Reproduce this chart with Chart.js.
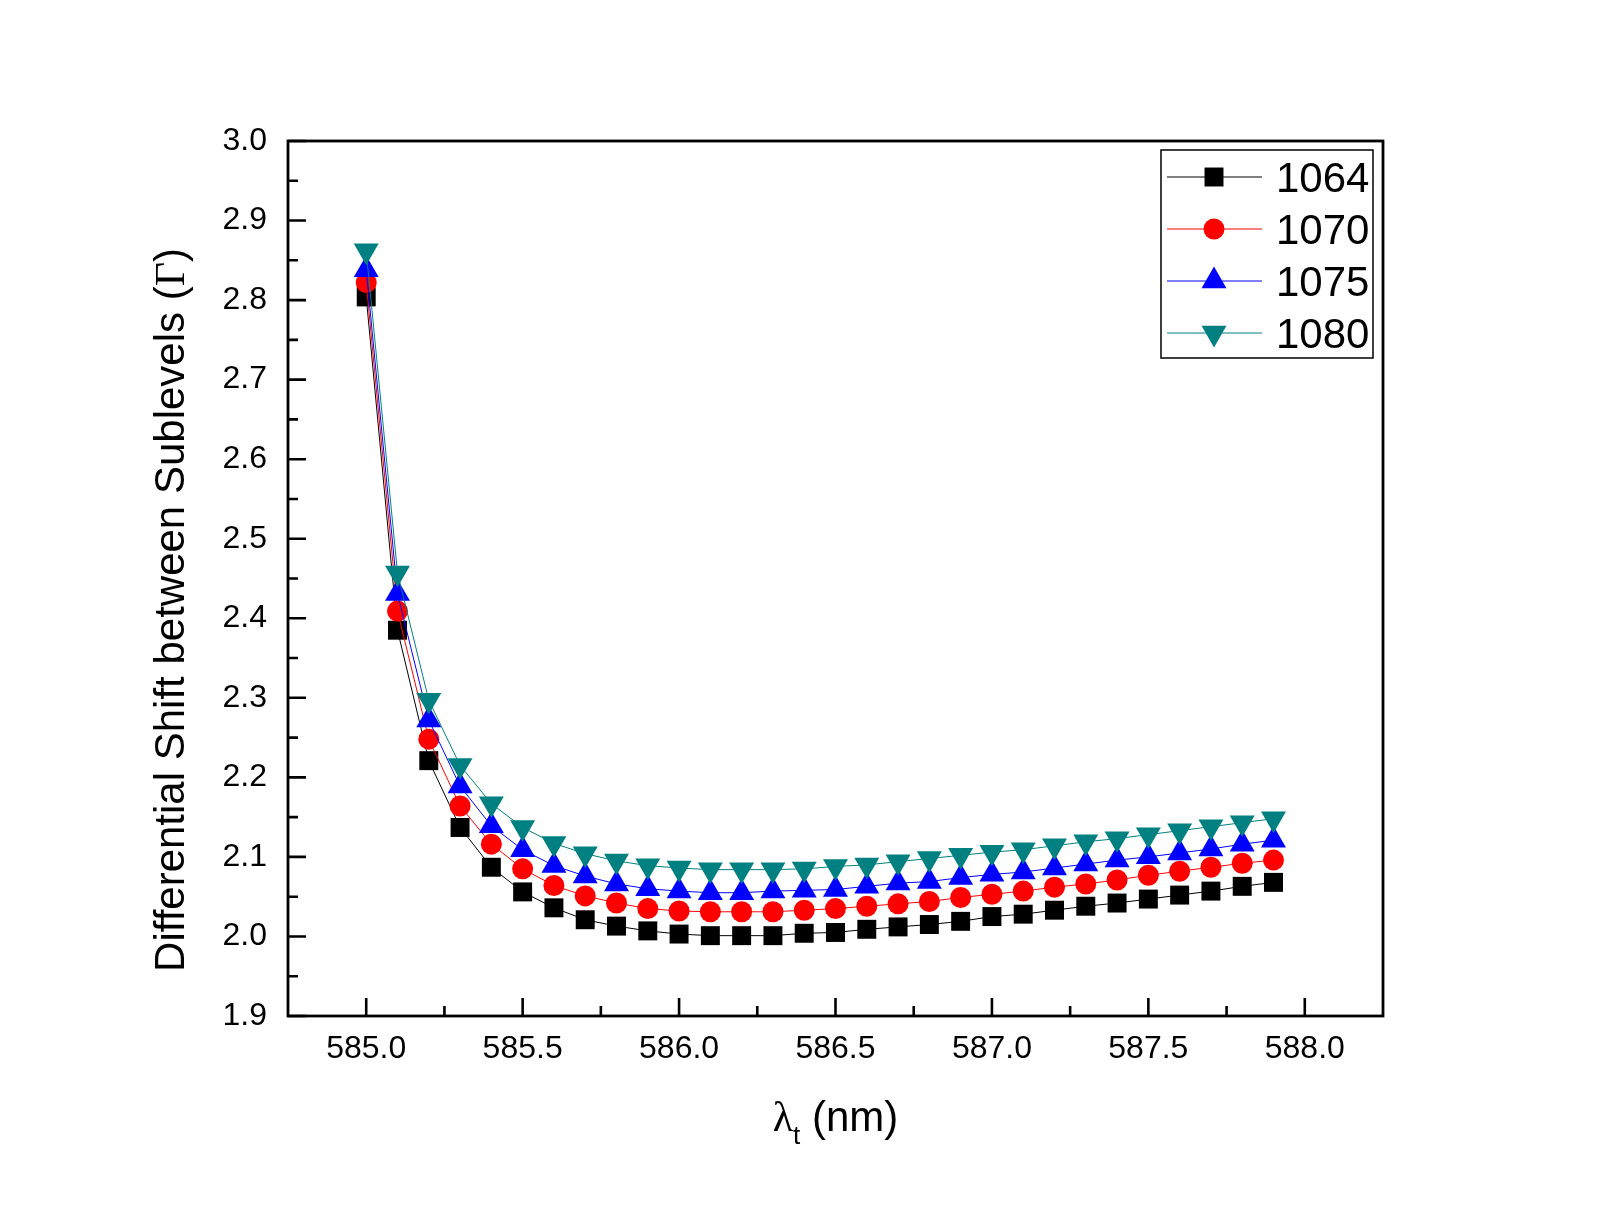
<!DOCTYPE html>
<html>
<head>
<meta charset="utf-8">
<title>Differential Shift between Sublevels</title>
<script src="https://cdn.jsdelivr.net/npm/chart.js@4.4.1/dist/chart.umd.min.js"></script>
<style>
  html, body { margin: 0; padding: 0; background: #fff; }
  #wrap { width: 1605px; height: 1218px; }
</style>
</head>
<body>
<div id="wrap"><canvas id="shiftChart" width="1605" height="1218"></canvas></div>
<script>
// wavelength lambda_t (nm)
const lambdaT = [585.0, 585.1, 585.2, 585.3, 585.4, 585.5, 585.6, 585.7, 585.8, 585.9,
                 586.0, 586.1, 586.2, 586.3, 586.4, 586.5, 586.6, 586.7, 586.8, 586.9,
                 587.0, 587.1, 587.2, 587.3, 587.4, 587.5, 587.6, 587.7, 587.8, 587.9];

// differential shift (Gamma) for each trap wavelength
const shift1064 = [2.804, 2.385, 2.221, 2.137, 2.087, 2.056, 2.036, 2.021, 2.013, 2.007,
                   2.003, 2.001, 2.001, 2.001, 2.004, 2.005, 2.009, 2.012, 2.015, 2.019,
                   2.025, 2.028, 2.033, 2.038, 2.042, 2.047, 2.052, 2.057, 2.063, 2.068];
const shift1070 = [2.822, 2.409, 2.248, 2.164, 2.116, 2.085, 2.064, 2.051, 2.042, 2.035,
                   2.032, 2.031, 2.031, 2.031, 2.033, 2.035, 2.038, 2.041, 2.044, 2.049,
                   2.053, 2.057, 2.062, 2.066, 2.071, 2.077, 2.082, 2.087, 2.092, 2.096];
const shift1075 = [2.838, 2.431, 2.272, 2.189, 2.139, 2.109, 2.089, 2.076, 2.066, 2.060,
                   2.057, 2.055, 2.055, 2.057, 2.058, 2.059, 2.063, 2.067, 2.069, 2.074,
                   2.078, 2.081, 2.086, 2.091, 2.096, 2.100, 2.105, 2.110, 2.116, 2.121];
const shift1080 = [2.862, 2.457, 2.297, 2.215, 2.167, 2.137, 2.117, 2.104, 2.095, 2.089,
                   2.086, 2.084, 2.084, 2.084, 2.085, 2.088, 2.090, 2.094, 2.098, 2.102,
                   2.106, 2.109, 2.114, 2.119, 2.123, 2.128, 2.133, 2.138, 2.143, 2.148];

const seriesNames = ['1064', '1070', '1075', '1080'];

// axis ticks
const xTicks = [585.0, 585.5, 586.0, 586.5, 587.0, 587.5, 588.0];
const yTicks = [1.9, 2.0, 2.1, 2.2, 2.3, 2.4, 2.5, 2.6, 2.7, 2.8, 2.9, 3.0];

const FONT = "'Liberation Sans', Arial, sans-serif";
const SERIF = "'Liberation Serif', 'Times New Roman', serif";

function toPoints(ys) {
  return lambdaT.map((x, i) => ({ x: x, y: ys[i] }));
}

const styles = [
  { color: '#000000', pointStyle: 'rect', radius: 13.4, rotation: 0 },
  { color: '#ff0000', pointStyle: 'circle', radius: 10.5, rotation: 0 },
  { color: '#0000ff', pointStyle: 'triangle', radius: 14.4, rotation: 0 },
  { color: '#008080', pointStyle: 'triangle', radius: 14.4, rotation: 180 }
];

const allSeries = [shift1064, shift1070, shift1075, shift1080];

const datasets = allSeries.map((ys, i) => ({
  label: seriesNames[i],
  data: toPoints(ys),
  borderColor: styles[i].color,
  backgroundColor: styles[i].color,
  borderWidth: 1,
  pointStyle: styles[i].pointStyle,
  pointRadius: styles[i].radius,
  pointRotation: styles[i].rotation,
  pointBorderWidth: 0,
  pointBackgroundColor: styles[i].color,
  tension: 0,
  fill: false,
  order: 4 - i   // later series drawn on top
}));

// frame, inward ticks, axis titles and the line+symbol legend
const decor = {
  id: 'decor',
  afterDraw(chart) {
    const { ctx, chartArea: a, scales } = chart;
    const sx = scales.x, sy = scales.y;
    ctx.save();
    ctx.strokeStyle = '#000';
    ctx.lineWidth = 2.6;
    ctx.beginPath();
    // x ticks (major + minor halfway)
    xTicks.forEach((v, i) => {
      const px = sx.getPixelForValue(v);
      ctx.moveTo(px, a.bottom);
      ctx.lineTo(px, a.bottom - 18);
      if (i < xTicks.length - 1) {
        const pm = sx.getPixelForValue((v + xTicks[i + 1]) / 2);
        ctx.moveTo(pm, a.bottom);
        ctx.lineTo(pm, a.bottom - 10);
      }
    });
    // y ticks
    yTicks.forEach((v, i) => {
      const py = sy.getPixelForValue(v);
      ctx.moveTo(a.left, py);
      ctx.lineTo(a.left + 18, py);
      if (i < yTicks.length - 1) {
        const pm = sy.getPixelForValue((v + yTicks[i + 1]) / 2);
        ctx.moveTo(a.left, pm);
        ctx.lineTo(a.left + 10, pm);
      }
    });
    ctx.stroke();
    ctx.lineWidth = 2.8;
    ctx.strokeRect(a.left, a.top, a.right - a.left, a.bottom - a.top);

    // y axis title
    ctx.fillStyle = '#000';
    ctx.textBaseline = 'alphabetic';
    ctx.textAlign = 'left';
    const yPart1 = 'Differential Shift between Sublevels (';
    const yGamma = 'Γ';
    const yPart3 = ')';
    ctx.font = '42px ' + FONT;
    const w1 = ctx.measureText(yPart1).width;
    const w3 = ctx.measureText(yPart3).width;
    ctx.font = '42px ' + SERIF;
    const w2 = ctx.measureText(yGamma).width;
    const total = w1 + w2 + w3;
    ctx.save();
    ctx.translate(184, 610);
    ctx.rotate(-Math.PI / 2);
    let cx = -total / 2;
    ctx.font = '42px ' + FONT;
    ctx.fillText(yPart1, cx, 0); cx += w1;
    ctx.font = '42px ' + SERIF;
    ctx.fillText(yGamma, cx, 0); cx += w2;
    ctx.font = '42px ' + FONT;
    ctx.fillText(yPart3, cx, 0);
    ctx.restore();

    // x axis title: lambda with subscript t
    ctx.font = '42px ' + SERIF;
    const wl = ctx.measureText('λ').width;
    ctx.font = '26px ' + FONT;
    const wt = ctx.measureText('t').width;
    ctx.font = '42px ' + FONT;
    const wn = ctx.measureText(' (nm)').width;
    let xx = (a.left + a.right) / 2 - (wl + wt + wn) / 2;
    ctx.font = '42px ' + SERIF;
    ctx.fillText('λ', xx, 1131); xx += wl;
    ctx.font = '26px ' + FONT;
    ctx.fillText('t', xx, 1144); xx += wt;
    ctx.font = '42px ' + FONT;
    ctx.fillText(' (nm)', xx, 1131);

    // legend
    ctx.lineWidth = 1.5;
    ctx.strokeRect(1161, 150, 212, 208);
    styles.forEach((s, i) => {
      const ry = 177 + 52 * i;
      ctx.strokeStyle = s.color;
      ctx.lineWidth = 1.2;
      ctx.beginPath();
      ctx.moveTo(1167, ry);
      ctx.lineTo(1262, ry);
      ctx.stroke();
      ctx.fillStyle = s.color;
      Chart.helpers.drawPoint(ctx, {
        pointStyle: s.pointStyle, radius: s.radius, rotation: s.rotation, borderWidth: 0
      }, 1214, ry);
      ctx.fillStyle = '#000';
      ctx.font = '42px ' + FONT;
      ctx.fillText(seriesNames[i], 1276, ry + 15);
    });
    ctx.restore();
  }
};

const chart = new Chart(document.getElementById('shiftChart').getContext('2d'), {
  type: 'line',
  data: { datasets: datasets },
  options: {
    responsive: false,
    animation: false,
    devicePixelRatio: 1,
    layout: { padding: { left: 0, top: 141, right: 222, bottom: 0 } },
    plugins: { legend: { display: false }, tooltip: { enabled: false } },
    scales: {
      x: {
        type: 'linear',
        min: 584.75,
        max: 588.25,
        grid: { display: false, drawTicks: false },
        border: { display: false },
        afterBuildTicks: s => { s.ticks = xTicks.map(v => ({ value: v })); },
        afterFit: s => { s.height = 1218 - 1016; },
        ticks: {
          autoSkip: false,
          maxRotation: 0,
          padding: 14,
          color: '#000',
          font: { family: FONT, size: 32 },
          callback: v => Number(v).toFixed(1)
        }
      },
      y: {
        type: 'linear',
        min: 1.9,
        max: 3.0,
        grid: { display: false, drawTicks: false },
        border: { display: false },
        afterBuildTicks: s => { s.ticks = yTicks.map(v => ({ value: v })); },
        afterFit: s => { s.width = 288; },
        ticks: {
          autoSkip: false,
          padding: 21,
          color: '#000',
          font: { family: FONT, size: 32 },
          callback: v => Number(v).toFixed(1)
        }
      }
    }
  },
  plugins: [decor]
});
</script>
</body>
</html>
